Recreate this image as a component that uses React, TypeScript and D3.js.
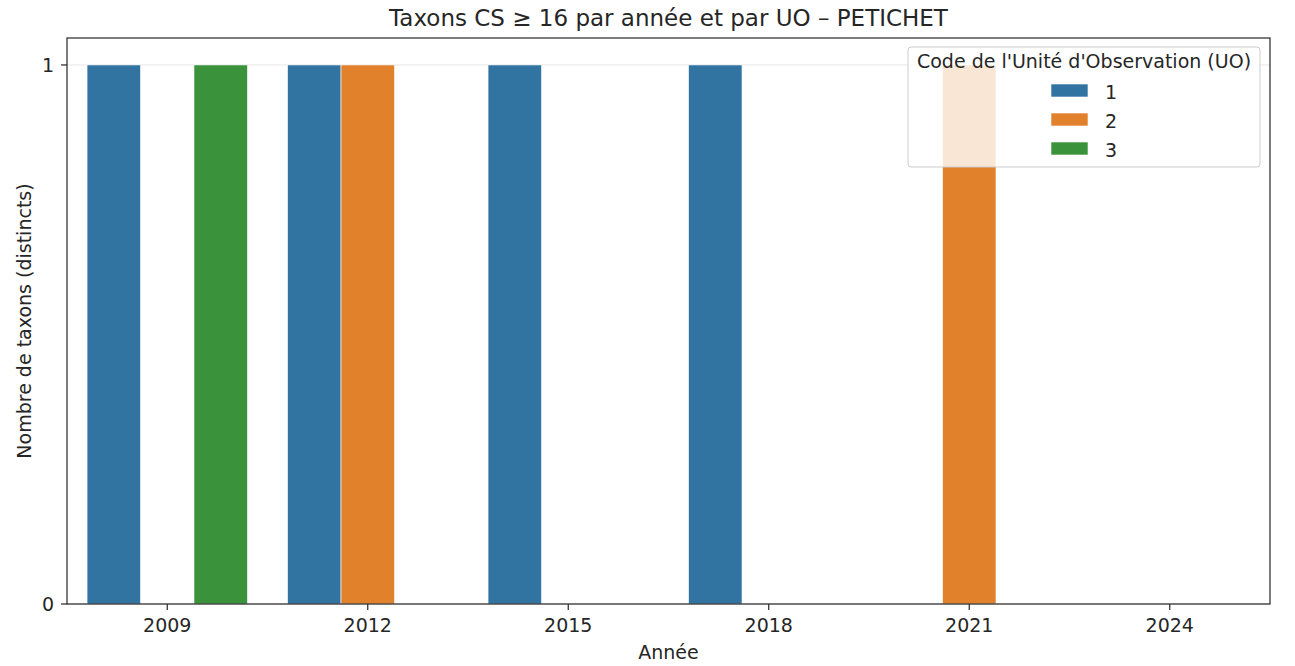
import React from "react";
import * as d3 from "d3";

const years = ["2009", "2012", "2015", "2018", "2021", "2024"];
const uoCodes = ["1", "2", "3"];
const uo1 = [1, 1, 1, 1, 0, 0];
const uo2 = [0, 1, 0, 0, 1, 0];
const uo3 = [1, 0, 0, 0, 0, 0];
const seriesValues = [uo1, uo2, uo3];
const yTicks = [0, 1];
const colors = ["#3274a1", "#e1812c", "#3a923a"];

const W = 1295, H = 666;
const M = { left: 67, right: 1270, top: 38, bottom: 604 };
const FONT = "DejaVu Sans, sans-serif";
const FS = 19;

export default function App() {
  const x = d3.scaleBand().domain(years).range([M.left, M.right]).paddingInner(0).paddingOuter(0);
  const inner = d3.scaleBand().domain(uoCodes).range([0, x.bandwidth() * 0.8]);
  const y = d3.scaleLinear().domain([0, 1.05]).range([M.bottom, M.top]);
  const off = x.bandwidth() * 0.1;

  const bars: any[] = [];
  seriesValues.forEach((vals, si) => {
    vals.forEach((v, i) => {
      if (v <= 0) return;
      const bx = (x(years[i]) as number) + off + (inner(uoCodes[si]) as number);
      bars.push(
        <rect key={`${si}-${i}`} x={bx} y={y(v)} width={inner.bandwidth()} height={y(0) - y(v)}
          fill={colors[si]} stroke="#ffffff" strokeWidth={0.6} />
      );
    });
  });

  const lx = 908, ly = 47, lw = 352, lh = 120;

  return (
    <svg width={W} height={H} style={{ position: "absolute", left: 0, top: 0 }} fontFamily={FONT}>
      <rect width={W} height={H} fill="#fff" />
      {yTicks.map((t) => (
        <line key={t} x1={M.left} x2={M.right} y1={y(t)} y2={y(t)} stroke="#e6e6e6" strokeWidth={1} />
      ))}
      {bars}
      <rect x={M.left} y={M.top} width={M.right - M.left} height={M.bottom - M.top} fill="none" stroke="#262626" strokeWidth={1.2} />
      {yTicks.map((t) => (
        <g key={t}>
          <line x1={M.left - 6} x2={M.left} y1={y(t)} y2={y(t)} stroke="#262626" strokeWidth={1.2} />
          <text x={M.left - 13} y={y(t)} dy="0.36em" textAnchor="end" fontSize={FS} fill="#262626">{t}</text>
        </g>
      ))}
      {years.map((yr) => {
        const cx = (x(yr) as number) + x.bandwidth() / 2;
        return (
          <g key={yr}>
            <line x1={cx} x2={cx} y1={M.bottom} y2={M.bottom + 6} stroke="#262626" strokeWidth={1.2} />
            <text x={cx} y={632} textAnchor="middle" fontSize={FS} fill="#262626">{yr}</text>
          </g>
        );
      })}
      <text x={(M.left + M.right) / 2} y={659} textAnchor="middle" fontSize={FS} fill="#262626">Année</text>
      <text transform={`translate(31,${(M.top + M.bottom) / 2}) rotate(-90)`} textAnchor="middle" fontSize={FS} fill="#262626">Nombre de taxons (distincts)</text>
      <text x={(M.left + M.right) / 2} y={26} textAnchor="middle" fontSize={23} fill="#262626">Taxons CS ≥ 16 par année et par UO – PETICHET</text>
      <rect x={lx} y={ly} width={lw} height={lh} rx={3} fill="#ffffff" fillOpacity={0.8} stroke="#cccccc" strokeWidth={1} />
      <text x={lx + lw / 2} y={68} textAnchor="middle" fontSize={FS} fill="#262626">Code de l'Unité d'Observation (UO)</text>
      {uoCodes.map((c, i) => (
        <g key={c}>
          <rect x={1051} y={84 + i * 29} width={37} height={13} fill={colors[i]} stroke="#ffffff" strokeWidth={0.6} />
          <text x={1105} y={99 + i * 29} fontSize={FS} fill="#262626">{c}</text>
        </g>
      ))}
    </svg>
  );
}
